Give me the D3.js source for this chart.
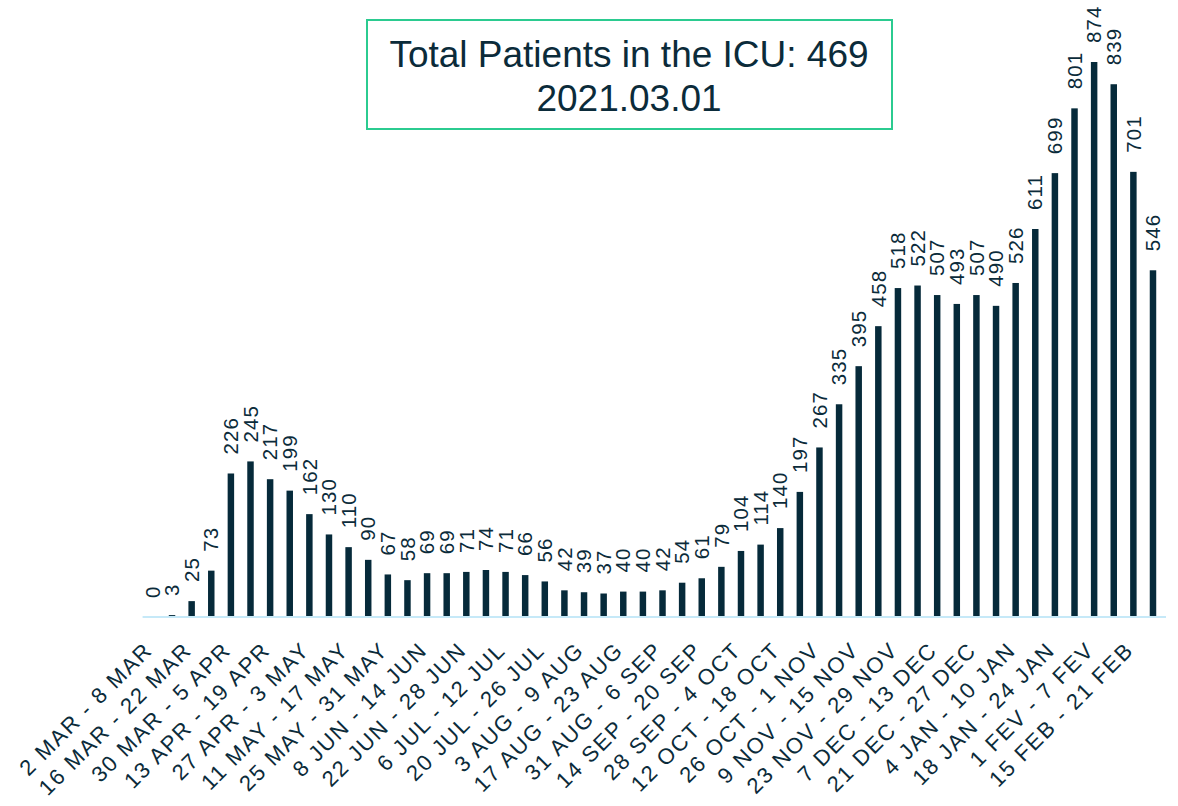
<!DOCTYPE html>
<html>
<head>
<meta charset="utf-8">
<script src="https://cdn.jsdelivr.net/npm/d3@7"></script>
<style>
  body { margin: 0; background: #fff; }
  svg { display: block; font-family: "Liberation Sans", Arial, sans-serif; }
</style>
</head>
<body>
<div id="chart-area"></div>
<script>
const weeks = [
  "2 MAR - 8 MAR", "9 MAR - 15 MAR", "16 MAR - 22 MAR", "23 MAR - 29 MAR",
  "30 MAR - 5 APR", "6 APR - 12 APR", "13 APR - 19 APR", "20 APR - 26 APR",
  "27 APR - 3 MAY", "4 MAY - 10 MAY", "11 MAY - 17 MAY", "18 MAY - 24 MAY",
  "25 MAY - 31 MAY", "1 JUN - 7 JUN", "8 JUN - 14 JUN", "15 JUN - 21 JUN",
  "22 JUN - 28 JUN", "29 JUN - 5 JUL", "6 JUL - 12 JUL", "13 JUL - 19 JUL",
  "20 JUL - 26 JUL", "27 JUL - 2 AUG", "3 AUG - 9 AUG", "10 AUG - 16 AUG",
  "17 AUG - 23 AUG", "24 AUG - 30 AUG", "31 AUG - 6 SEP", "7 SEP - 13 SEP",
  "14 SEP - 20 SEP", "21 SEP - 27 SEP", "28 SEP - 4 OCT", "5 OCT - 11 OCT",
  "12 OCT - 18 OCT", "19 OCT - 25 OCT", "26 OCT - 1 NOV", "2 NOV - 8 NOV",
  "9 NOV - 15 NOV", "16 NOV - 22 NOV", "23 NOV - 29 NOV", "30 NOV - 6 DEC",
  "7 DEC - 13 DEC", "14 DEC - 20 DEC", "21 DEC - 27 DEC", "28 DEC - 3 JAN",
  "4 JAN - 10 JAN", "11 JAN - 17 JAN", "18 JAN - 24 JAN", "25 JAN - 31 JAN",
  "1 FEV - 7 FEV", "8 FEV - 14 FEV", "15 FEB - 21 FEB", "22 FEB - 28 FEB"
];

const patients = [
  0, 3, 25, 73, 226, 245, 217, 199, 162, 130, 110, 90, 67,
  58, 69, 69, 71, 74, 71, 66, 56, 42, 39, 37, 40, 40,
  42, 54, 61, 79, 104, 114, 140, 197, 267, 335, 395, 458, 518,
  522, 507, 493, 507, 490, 526, 611, 699, 801, 874, 839, 701, 546
];

// only every other week gets a label on the axis
const shownWeeks = weeks.filter((w, i) => i % 2 === 0);

const titleLines = ["Total Patients in the ICU: 469", "2021.03.01"];

const barColor = "#062a3a";
const textColor = "#0b2b3a";

const svg = d3.select("#chart-area").append("svg")
  .attr("width", 1178)
  .attr("height", 806);

const x = d3.scaleBand()
  .domain(weeks)
  .range([142.6, 1162.8])
  .paddingInner(0.67)
  .paddingOuter(0.335);

const y = d3.scaleLinear()
  .domain([0, 874])
  .range([617, 62]);

// bars
svg.append("g").selectAll("rect")
  .data(patients)
  .join("rect")
  .attr("x", (d, i) => x(weeks[i]))
  .attr("y", d => y(d))
  .attr("width", x.bandwidth())
  .attr("height", d => y(0) - y(d))
  .attr("fill", barColor);

// value labels, rotated
svg.append("g").selectAll("text")
  .data(patients)
  .join("text")
  .attr("transform", (d, i) =>
    `translate(${x(weeks[i]) + x.bandwidth() / 2},${y(d) - 19}) rotate(-90)`)
  .attr("dy", "0.35em")
  .attr("text-anchor", "start")
  .attr("font-size", 20.5)
  .attr("letter-spacing", 1.1)
  .attr("fill", textColor)
  .text(d => d);

// x axis
const xAxis = d3.axisBottom(x)
  .tickValues(shownWeeks)
  .tickSize(0)
  .tickPadding(0);

const gx = svg.append("g")
  .attr("transform", `translate(0,${y(0)})`)
  .call(xAxis);

gx.select(".domain")
  .attr("d", "M142.6,0H1166")
  .attr("stroke", "#c6e9f8")
  .attr("stroke-width", 2);

gx.selectAll(".tick text")
  .attr("font-size", 22)
  .attr("letter-spacing", 1.8)
  .attr("font-family", "Liberation Sans, Arial, sans-serif")
  .attr("fill", textColor)
  .attr("text-anchor", "end")
  .attr("x", 0)
  .attr("y", 0)
  .attr("dy", "0.35em")
  .attr("transform", "translate(-4,29) rotate(-45)");

// title box
svg.append("rect")
  .attr("x", 367)
  .attr("y", 20)
  .attr("width", 525)
  .attr("height", 109)
  .attr("fill", "#fff")
  .attr("stroke", "#2bcb90")
  .attr("stroke-width", 2);

svg.append("g").selectAll("text")
  .data(titleLines)
  .join("text")
  .attr("x", 629)
  .attr("y", (d, i) => 67 + i * 44)
  .attr("text-anchor", "middle")
  .attr("font-size", 37)
  .attr("fill", textColor)
  .text(d => d);
</script>
</body>
</html>
